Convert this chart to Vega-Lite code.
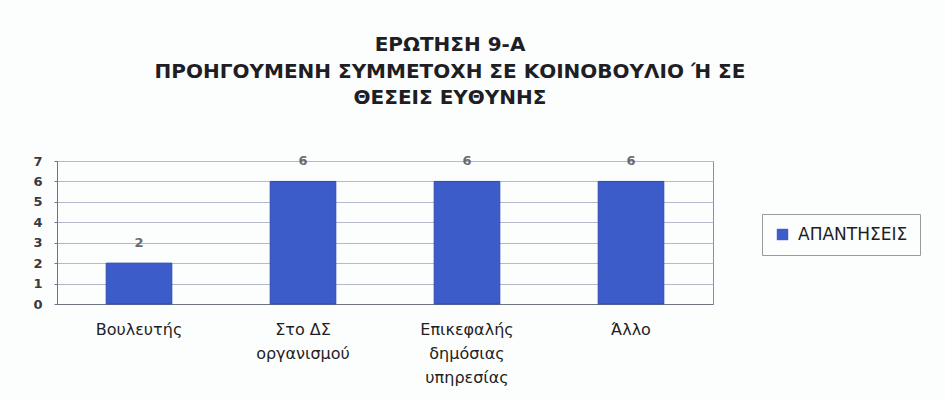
{
  "$schema": "https://vega.github.io/schema/vega-lite/v6.json",
  "autosize": {"type": "none"},
  "width": 656,
  "height": 143,
  "padding": {"left": 57, "top": 161, "right": 232, "bottom": 97},
  "background": "#fcfdfd",
  "title": {
    "text": ["ΕΡΩΤΗΣΗ 9-Α", "ΠΡΟΗΓΟΥΜΕΝΗ ΣΥΜΜΕΤΟΧΗ ΣΕ ΚΟΙΝΟΒΟΥΛΙΟ Ή ΣΕ", "ΘΕΣΕΙΣ ΕΥΘΥΝΗΣ"],
    "font": "DejaVu Sans",
    "fontSize": 20,
    "fontWeight": "bold",
    "color": "#1e1e24",
    "lineHeight": 26.5,
    "anchor": "middle",
    "dx": 65,
    "offset": 47
  },
  "config": {
    "view": {"stroke": "#8a8f9a", "strokeWidth": 1},
    "font": "DejaVu Sans"
  },
  "data": {
    "values": [
      {"category": "Βουλευτής", "series": "ΑΠΑΝΤΗΣΕΙΣ", "value": 2},
      {"category": "Στο ΔΣ|οργανισμού", "series": "ΑΠΑΝΤΗΣΕΙΣ", "value": 6},
      {"category": "Επικεφαλής|δημόσιας|υπηρεσίας", "series": "ΑΠΑΝΤΗΣΕΙΣ", "value": 6},
      {"category": "Άλλο", "series": "ΑΠΑΝΤΗΣΕΙΣ", "value": 6}
    ]
  },
  "encoding": {
    "x": {
      "field": "category",
      "type": "nominal",
      "sort": null,
      "scale": {"paddingInner": 0.6, "paddingOuter": 0.3},
      "axis": {
        "title": null,
        "labelAngle": 0,
        "labelExpr": "split(datum.label, '|')",
        "labelFont": "DejaVu Sans",
        "labelFontSize": 16,
        "labelColor": "#1e1e24",
        "labelLineHeight": 24,
        "labelPadding": 17,
        "ticks": false,
        "domainColor": "#6e7380",
        "grid": false
      }
    },
    "y": {
      "field": "value",
      "type": "quantitative",
      "scale": {"domain": [0, 7], "nice": false},
      "axis": {
        "title": null,
        "values": [0, 1, 2, 3, 4, 5, 6, 7],
        "labelFont": "DejaVu Sans",
        "labelFontSize": 13,
        "labelFontWeight": "bold",
        "labelColor": "#3a3a40",
        "labelPadding": 12,
        "tickSize": 3,
        "tickColor": "#6e7380",
        "domainColor": "#6e7380",
        "grid": true,
        "gridColor": "#b4bacb",
        "gridWidth": 1
      }
    }
  },
  "layer": [
    {
      "mark": {"type": "bar", "stroke": "#2c4ab0", "strokeWidth": 1},
      "encoding": {
        "color": {
          "field": "series",
          "type": "nominal",
          "scale": {"range": ["#3b5cc9"]},
          "legend": {
            "title": null,
            "orient": "none",
            "legendX": 705,
            "legendY": 53,
            "symbolType": "square",
            "symbolSize": 130,
            "labelFont": "DejaVu Sans",
            "labelFontSize": 17,
            "labelColor": "#1e1e24",
            "labelOffset": 7,
            "strokeColor": "#9a9a9a",
            "padding": 12,
            "symbolStrokeWidth": 0,
            "encode": {"symbols": {"update": {"fill": {"value": "#34407e"}}}}
          }
        }
      }
    },
    {
      "mark": {"type": "text", "dy": -20, "fontSize": 13, "fontWeight": "bold", "color": "#6a6a70", "font": "DejaVu Sans"},
      "encoding": {"text": {"field": "value", "type": "quantitative"}}
    }
  ]
}
